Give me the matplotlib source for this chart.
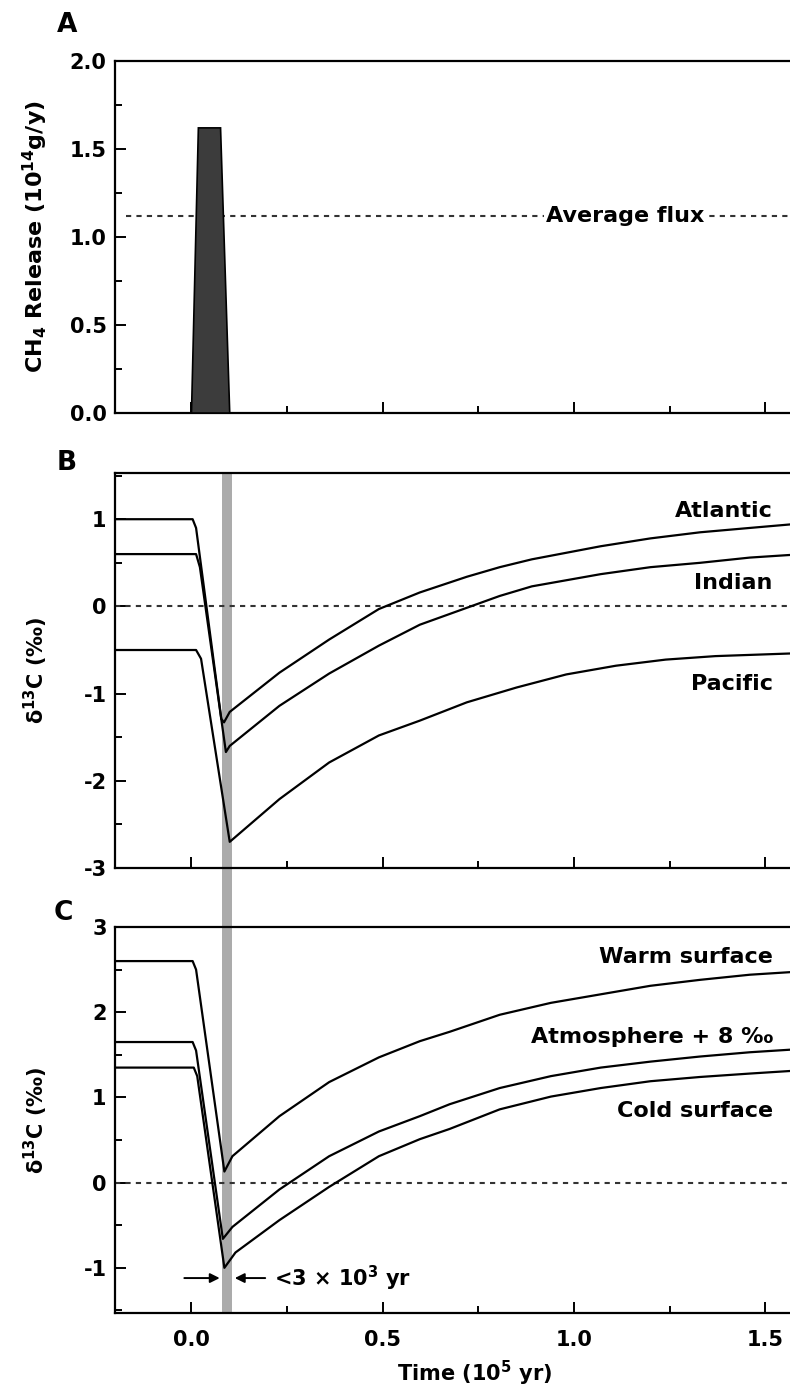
import matplotlib
matplotlib.use('Agg')
import matplotlib.pyplot as plt
import matplotlib.transforms as mtransforms
from matplotlib.patches import Rectangle
from matplotlib.ticker import MultipleLocator

plt.rcParams['font.family'] = ['DejaVu Sans']
plt.rcParams['font.weight'] = 'bold'
plt.rcParams['axes.labelweight'] = 'bold'
plt.rcParams['mathtext.default'] = 'bf'

# Time axis in units of 10^5 yr
t_min, t_max = -0.2, 1.565

# A: methane release pulse
pulse_t = [0.0, 0.018, 0.076, 0.1]
pulse_flux = [0.0, 1.62, 1.62, 0.0]
avg_flux = 1.12

# main release window (shaded band through B and C)
release_window = (0.081, 0.106)

# B: deep ocean d13C
atl_t = [-0.2, 0.003, 0.012, 0.078, 0.085, 0.1, 0.23, 0.36, 0.49, 0.597, 0.72, 0.806, 0.89,
         1.07, 1.2, 1.33, 1.46, 1.565]
atl_d13c = [1.0, 1.0, 0.9, -1.29, -1.33, -1.21, -0.76, -0.38, -0.03, 0.16, 0.34, 0.45, 0.54,
            0.69, 0.78, 0.85, 0.90, 0.94]
ind_t = [-0.2, 0.012, 0.022, 0.09, 0.1, 0.23, 0.36, 0.49, 0.597, 0.806, 0.89, 1.07, 1.2,
         1.33, 1.46, 1.565]
ind_d13c = [0.6, 0.6, 0.45, -1.67, -1.6, -1.14, -0.77, -0.45, -0.21, 0.12, 0.23, 0.37, 0.45,
            0.50, 0.56, 0.59]
pac_t = [-0.2, 0.012, 0.025, 0.1, 0.23, 0.36, 0.49, 0.597, 0.72, 0.85, 0.98, 1.11, 1.24,
         1.37, 1.565]
pac_d13c = [-0.5, -0.5, -0.6, -2.70, -2.21, -1.79, -1.48, -1.31, -1.10, -0.93, -0.78, -0.68,
            -0.61, -0.57, -0.54]

# C: surface ocean / atmosphere d13C
warm_t = [-0.2, 0.003, 0.012, 0.086, 0.107, 0.23, 0.36, 0.49, 0.597, 0.675, 0.806, 0.94,
          1.07, 1.2, 1.33, 1.46, 1.565]
warm_d13c = [2.6, 2.6, 2.5, 0.13, 0.31, 0.78, 1.18, 1.47, 1.66, 1.77, 1.97, 2.11, 2.21,
             2.31, 2.38, 2.44, 2.47]
atm_t = [-0.2, 0.003, 0.012, 0.082, 0.107, 0.23, 0.36, 0.49, 0.597, 0.675, 0.806, 0.94,
         1.07, 1.2, 1.33, 1.46, 1.565]
atm_d13c = [1.65, 1.65, 1.55, -0.66, -0.52, -0.08, 0.31, 0.60, 0.78, 0.92, 1.11, 1.25,
            1.35, 1.42, 1.48, 1.53, 1.56]
cold_t = [-0.2, 0.006, 0.015, 0.086, 0.115, 0.23, 0.36, 0.49, 0.597, 0.675, 0.806, 0.94,
          1.07, 1.2, 1.33, 1.46, 1.565]
cold_d13c = [1.35, 1.35, 1.25, -1.0, -0.82, -0.44, -0.05, 0.31, 0.51, 0.63, 0.86, 1.01,
             1.11, 1.19, 1.24, 1.28, 1.31]

W, H = 790, 1388
fig = plt.figure(figsize=(W / 100, H / 100), dpi=100)


def add_axes(top_px, bottom_px):
    left = 115 / W
    return fig.add_axes([left, 1 - bottom_px / H, 1 - left, (bottom_px - top_px) / H])


axA = add_axes(61, 413)
axB = add_axes(473, 868)
axC = add_axes(927, 1313)

dots = dict(color='#333333', lw=1.5, ls=(0, (2.5, 2.5)))
curve = dict(color='black', lw=1.6)

for ax in (axA, axB, axC):
    ax.set_xlim(t_min, t_max)
    ax.spines['right'].set_visible(False)
    for s in ('left', 'top', 'bottom'):
        ax.spines[s].set_linewidth(1.6)
    ax.xaxis.set_major_locator(MultipleLocator(0.5))
    ax.xaxis.set_minor_locator(MultipleLocator(0.25))
    ax.tick_params(which='both', direction='in', top=False, right=False, width=1.4)
    ax.tick_params(which='major', length=8, labelsize=15, pad=6)
    ax.tick_params(which='minor', length=5)
    ax.tick_params(axis='x', pad=12)
    ax.yaxis.set_label_coords(-0.096, 0.5)

# A
axA.fill(pulse_t, pulse_flux, facecolor='#3c3c3c', edgecolor='black', lw=1.2, zorder=3)
axA.plot([-0.17, t_max], [avg_flux, avg_flux], **dots, zorder=2)
axA.text(1.133, avg_flux, 'Average flux', ha='center', va='center', fontsize=16,
         bbox=dict(facecolor='white', edgecolor='none', pad=1), zorder=4)
axA.set_ylim(0, 2.0)
axA.yaxis.set_major_locator(MultipleLocator(0.5))
axA.yaxis.set_minor_locator(MultipleLocator(0.25))
axA.yaxis.set_major_formatter(lambda v, p: f'{v:.1f}')
axA.set_ylabel('CH$_4$ Release (10$^{14}$g/y)', fontsize=16)
axA.tick_params(axis='x', labelbottom=False)

# B
axB.axhline(0, **dots)
axB.plot(atl_t, atl_d13c, **curve)
axB.plot(ind_t, ind_d13c, **curve)
axB.plot(pac_t, pac_d13c, **curve)
axB.set_ylim(-3, 1.53)
axB.yaxis.set_major_locator(MultipleLocator(1))
axB.yaxis.set_minor_locator(MultipleLocator(0.5))
axB.yaxis.set_major_formatter(lambda v, p: f'{v:.0f}')
axB.set_ylabel('δ$^{13}$C (‰)', fontsize=15)
axB.tick_params(axis='x', labelbottom=False)
for label, y in [('Atlantic', 1.09), ('Indian', 0.27), ('Pacific', -0.89)]:
    axB.text(1.52, y, label, ha='right', va='center', fontsize=16)

# C
axC.axhline(0, **dots)
axC.plot(warm_t, warm_d13c, **curve)
axC.plot(atm_t, atm_d13c, **curve)
axC.plot(cold_t, cold_d13c, **curve)
axC.set_ylim(-1.53, 3)
axC.yaxis.set_major_locator(MultipleLocator(1))
axC.yaxis.set_minor_locator(MultipleLocator(0.5))
axC.yaxis.set_major_formatter(lambda v, p: f'{v:.0f}')
axC.xaxis.set_major_formatter(lambda v, p: f'{v:.1f}')
axC.set_ylabel('δ$^{13}$C (‰)', fontsize=15)
for label, y in [('Warm surface', 2.65), ('Atmosphere + 8 ‰', 1.71), ('Cold surface', 0.84)]:
    axC.text(1.52, y, label, ha='right', va='center', fontsize=16)

arrow = dict(arrowstyle='-|>', color='black', lw=1.4, mutation_scale=14)
axC.annotate('', xy=(release_window[0], -1.12), xytext=(-0.026, -1.12), arrowprops=arrow)
axC.annotate('', xy=(release_window[1], -1.12), xytext=(0.2, -1.12), arrowprops=arrow)
axC.text(0.215, -1.12, '<3 × 10$^3$ yr', ha='left', va='center', fontsize=15)

# shaded release window spanning panels B and C, drawn beneath the axes
band_tf = mtransforms.blended_transform_factory(axC.transData, fig.transFigure)
y0 = 1 - 1313 / H
y1 = 1 - 473 / H
fig.patches.append(Rectangle((release_window[0], y0), release_window[1] - release_window[0],
                             y1 - y0, transform=band_tf, facecolor='#ababab',
                             edgecolor='none', zorder=-1, figure=fig))
for ax in (axB, axC):
    ax.set_facecolor('none')

fig.text(475 / W, 1 - 1373 / H, 'Time (10$^5$ yr)', ha='center', va='center', fontsize=15)

for letter, x, y in [('A', 67, 25), ('B', 67, 463), ('C', 63, 913)]:
    fig.text(x / W, 1 - y / H, letter, ha='center', va='center', fontsize=19)

fig.savefig('out.png', dpi=100)
